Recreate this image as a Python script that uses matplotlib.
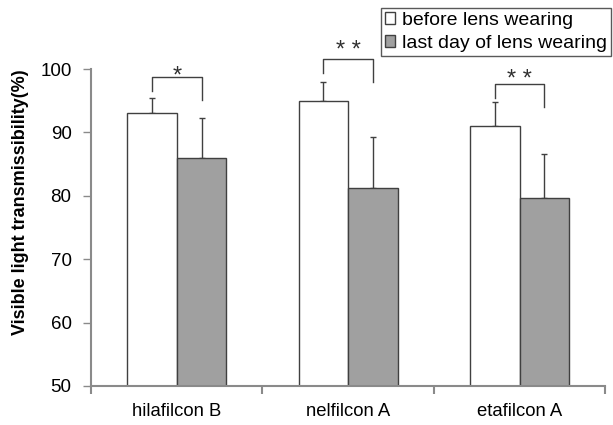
import numpy as np
import matplotlib
matplotlib.use("Agg")
import matplotlib.pyplot as plt
from matplotlib.transforms import offset_copy

plt.rcParams['font.family'] = ['Liberation Sans', 'DejaVu Sans']

# ---------- data ----------
lenses = ["hilafilcon B", "nelfilcon A", "etafilcon A"]
before = [93.0, 95.0, 91.0]
before_sd = [2.4, 3.0, 3.8]
last_day = [86.0, 81.2, 79.6]
last_day_sd = [6.2, 8.1, 7.0]
series_names = ["before lens wearing", "last day of lens wearing"]

# significance brackets: top, left leg end, right leg end, star height
sig_marks = ["*", "* *", "* *"]
br_top = [98.7, 101.6, 97.6]
br_left = [96.5, 99.4, 95.5]
br_right = [95.1, 98.0, 94.05]
star_y = [99.9, 104.0, 99.4]

edge = "#404040"
grey_fill = "#a0a0a0"
spine_c = "#8a8a8a"

fig = plt.figure(figsize=(6.13, 4.25), dpi=100)
ax = fig.add_axes([0.1485, 0.0918, 0.8390, 0.7458])

x = np.arange(len(lenses))
w = 0.289

b1 = ax.bar(x - w/2, before, w, color="white", edgecolor=edge, linewidth=1.0,
            label=series_names[0], zorder=2)
b2 = ax.bar(x + w/2, last_day, w, color=grey_fill, edgecolor=edge, linewidth=1.0,
            label=series_names[1], zorder=2)

# upper error bars only
ax.errorbar(x - w/2, before, yerr=[np.zeros(3), before_sd], fmt="none",
            ecolor=edge, elinewidth=1.0, capsize=2.2, capthick=1.0, zorder=1)
ax.errorbar(x + w/2, last_day, yerr=[np.zeros(3), last_day_sd], fmt="none",
            ecolor=edge, elinewidth=1.0, capsize=2.2, capthick=1.0, zorder=1)

# asterisks sit high in their glyph box, nudge them down a little
star_tr = offset_copy(ax.transData, fig=fig, x=0, y=-7, units="dots")
for i in range(len(lenses)):
    xl, xr = x[i] - w/2, x[i] + w/2
    ax.plot([xl, xl, xr, xr], [br_left[i], br_top[i], br_top[i], br_right[i]],
            color=edge, lw=1.0, clip_on=False)
    ax.text(x[i], star_y[i], sig_marks[i], ha="center", va="center",
            fontsize=17, color="#303030", clip_on=False, transform=star_tr)

ax.set_xlim(-0.5, 2.5)
ax.set_ylim(50, 100)
ax.set_yticks([50, 60, 70, 80, 90, 100])
ax.set_xticks(x)
ax.set_xticklabels(lenses, fontsize=13.3)
ax.set_xticks([-0.5, 0.5, 1.5, 2.5], minor=True)
ax.tick_params(axis="x", which="major", length=0, pad=12)
ax.tick_params(axis="x", which="minor", length=6, width=1.5, color=spine_c, direction="out")
ax.tick_params(axis="y", length=6, width=1.0, color=spine_c, pad=8, labelsize=13.5)

for s in ["top", "right"]:
    ax.spines[s].set_visible(False)
for s in ["left", "bottom"]:
    ax.spines[s].set_color(spine_c)
    ax.spines[s].set_linewidth(1.5)

fig.text(0.034, 0.524, "Visible light transmissibility(%)", rotation=90,
         ha="center", va="center", fontsize=13, fontweight="bold")

leg = fig.legend(handles=[b1, b2], loc="upper right", bbox_to_anchor=(0.997, 0.981),
                 fontsize=14, frameon=True, fancybox=False, handlelength=0.55,
                 handleheight=0.55, handletextpad=0.35, labelspacing=0.3,
                 borderpad=0.2, borderaxespad=0)
leg.get_frame().set_edgecolor("#303030")
leg.get_frame().set_linewidth(1.0)

plt.savefig("out.png", dpi=100)
